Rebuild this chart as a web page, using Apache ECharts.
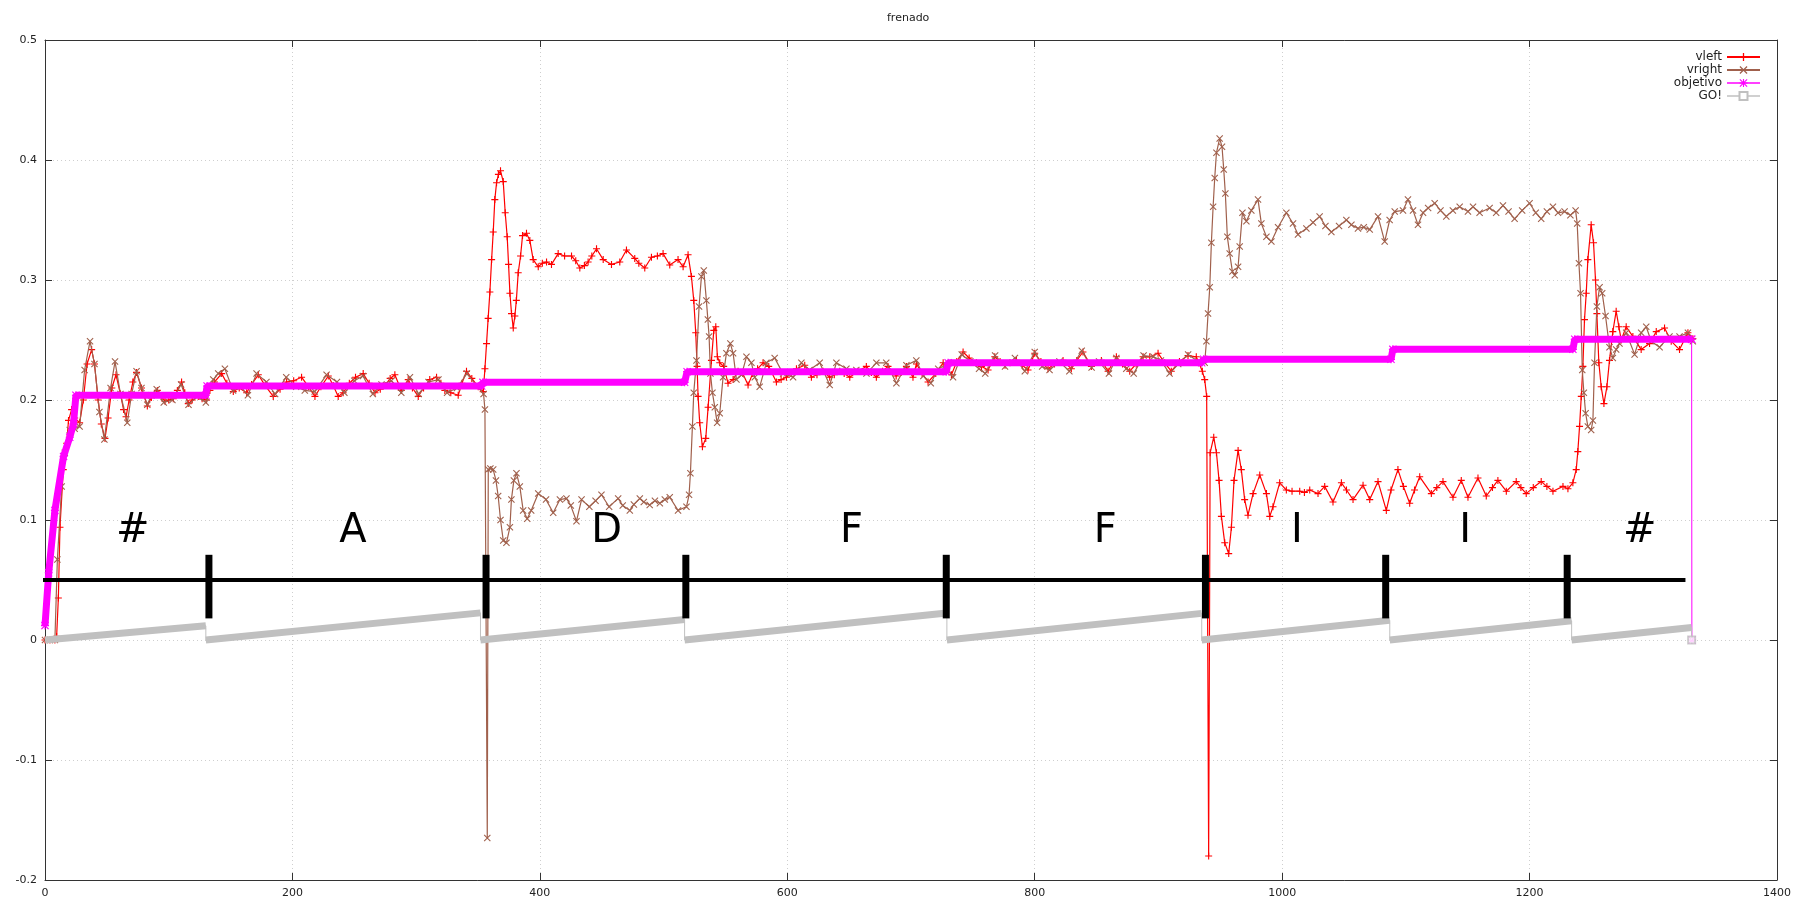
<!DOCTYPE html>
<html>
<head>
<meta charset="utf-8">
<title>frenado</title>
<script src="https://cdn.jsdelivr.net/npm/echarts@6/dist/echarts.min.js"></script>
<style>
html, body { margin: 0; padding: 0; background: #fff; }
#chart { width: 1798px; height: 907px; }
</style>
</head>
<body>
<div id="chart"></div>
<script>
// velocidad rueda izquierda [muestra, valor]
var vleft = [
  [0,0],[4,0],[8,0],[9.4,0.003],[10.8,0.035],[12.1,0.094],[14.8,0.142],[17.5,0.164],[19,0.183],[21.5,0.192],[24,0.185],[28,0.181],
  [31,0.2],[34,0.23],[37.7,0.242],[40,0.23],[43,0.2],[45.5,0.18],[48.5,0.168],[51,0.185],[54,0.21],[57.4,0.221],[61,0.205],
  [63.5,0.192],[65.5,0.186],[68,0.2],[71,0.215],[74,0.223],[78,0.21],[82.7,0.195],[86,0.202],[90.8,0.208],[94,0.203],[97,0.199],
  [100,0.2],[103.7,0.201],[107,0.208],[110.4,0.215],[113,0.206],[115.8,0.197],[119,0.2],[123.9,0.203],[127,0.201],[130.6,0.2],
  [133.3,0.208],[137,0.215],[142.8,0.222],[147,0.214],[152.2,0.207],[157,0.21],[163,0.206],[167,0.213],[172.4,0.221],[178,0.212],
  [184.5,0.203],[190,0.209],[195.3,0.215],[201,0.216],[207.4,0.219],[213,0.211],[218.2,0.203],[223,0.211],[229,0.22],[233,0.212],
  [237,0.203],[241,0.206],[246,0.214],[251,0.219],[257.2,0.222],[262,0.214],[266.7,0.206],[271,0.209],[275,0.212],[279,0.218],
  [282.8,0.221],[288,0.208],[293.6,0.217],[297,0.21],[301.7,0.203],[306,0.21],[311,0.217],[316.5,0.219],[320,0.214],[323.2,0.208],
  [328,0.206],[334,0.204],[337,0.214],[340.7,0.224],[345,0.218],[350.2,0.211],[354.2,0.207],[355.6,0.226],[356.9,0.247],
  [358.2,0.268],[359.6,0.29],[361,0.317],[362.3,0.34],[363.6,0.367],[365,0.381],[366.5,0.388],[368.2,0.391],[370.4,0.382],
  [372,0.356],[373.6,0.336],[374.7,0.313],[375.8,0.289],[377.1,0.272],[378.5,0.26],[379.8,0.27],[381,0.283],[382.5,0.306],
  [384.4,0.32],[386,0.337],[389.2,0.339],[391.9,0.333],[394.6,0.317],[398.7,0.311],[402,0.314],[405.4,0.315],[409.4,0.313],
  [414.8,0.322],[420,0.32],[425.6,0.32],[429,0.316],[432.3,0.31],[436,0.312],[439,0.315],[442,0.32],[445.8,0.326],[451.2,0.317],
  [457.9,0.313],[464.6,0.315],[470,0.325],[476.7,0.318],[480,0.314],[484.8,0.31],[490.2,0.319],[495,0.32],[499.6,0.322],
  [505,0.3125],[511.7,0.317],[515.8,0.311],[519.8,0.321],[522.5,0.303],[524.4,0.283],[526,0.256],[527.1,0.228],[527.9,0.203],
  [529.2,0.181],[531.4,0.161],[534.1,0.168],[536,0.194],[538.7,0.233],[540.6,0.258],[542.2,0.261],[543.5,0.236],[545.4,0.231],
  [548.6,0.228],[552.1,0.214],[556.2,0.217],[560.2,0.224],[564,0.222],[568.3,0.2125],[572,0.222],[576,0.226],[580.4,0.231],
  [585,0.228],[591.2,0.215],[595,0.217],[599.3,0.219],[603,0.222],[607.4,0.226],[614.1,0.229],[619.5,0.219],[624,0.221],
  [628.9,0.224],[634.3,0.219],[638,0.221],[642.4,0.224],[646,0.222],[650.5,0.219],[657,0.224],[663.9,0.228],[668,0.223],
  [672,0.219],[677,0.224],[681.4,0.228],[688,0.22],[692,0.223],[696.3,0.228],[701.6,0.219],[704.4,0.23],[709,0.222],
  [713.8,0.215],[720,0.222],[726,0.231],[732.7,0.221],[737,0.232],[742.1,0.24],[747,0.235],[752.9,0.231],[757,0.228],
  [762.3,0.225],[767.7,0.236],[772,0.232],[776,0.229],[780,0.231],[785.2,0.233],[790,0.229],[794.6,0.225],[800,0.239],
  [805,0.232],[810.8,0.226],[816,0.23],[822.9,0.233],[829.6,0.226],[834,0.233],[839,0.24],[845.8,0.228],[853.9,0.233],
  [859.3,0.224],[866,0.236],[871,0.23],[876.8,0.224],[882,0.23],[887.6,0.236],[893,0.236],[899.7,0.239],[905,0.231],
  [910.4,0.224],[917,0.232],[923.9,0.237],[930.6,0.236],[935.5,0.224],[937.4,0.217],[939,0.203],[940.6,-0.18],[941.8,0.156],
  [944.7,0.169],[946.9,0.156],[949,0.133],[950.9,0.103],[953.6,0.081],[956.8,0.072],[959,0.094],[961.1,0.133],[964.4,0.158],
  [967,0.142],[969.7,0.117],[972.4,0.104],[976.5,0.122],[981.9,0.1375],[987.3,0.122],[990,0.103],[992.6,0.111],[998,0.131],
  [1003.4,0.125],[1008,0.124],[1014.2,0.124],[1018,0.123],[1022.3,0.125],[1029,0.122],[1034.4,0.128],[1041.1,0.115],
  [1047.9,0.131],[1052,0.125],[1057.3,0.117],[1065.4,0.129],[1070.8,0.117],[1077.5,0.132],[1084.2,0.108],[1088,0.125],
  [1093.6,0.142],[1098,0.128],[1103.1,0.114],[1107,0.125],[1111.2,0.136],[1120.6,0.122],[1125,0.127],[1130,0.132],
  [1138.1,0.119],[1144.8,0.133],[1150.2,0.119],[1158.3,0.135],[1165,0.12],[1170,0.127],[1174.4,0.133],[1181.2,0.124],
  [1189.2,0.132],[1193,0.127],[1197.3,0.122],[1203,0.127],[1209.4,0.132],[1214,0.128],[1218.9,0.124],[1227,0.128],
  [1231,0.126],[1235,0.131],[1237.7,0.142],[1239,0.157],[1240.4,0.178],[1241.8,0.203],[1243.1,0.228],[1244.4,0.267],
  [1245.8,0.289],[1247.1,0.317],[1249.8,0.346],[1251.7,0.331],[1253.3,0.3],[1254.4,0.272],[1256,0.231],[1257.9,0.211],
  [1260.1,0.197],[1262.5,0.211],[1264.6,0.233],[1267.3,0.257],[1270,0.274],[1272.2,0.261],[1274.1,0.25],[1278.1,0.261],
  [1283.5,0.253],[1290.2,0.242],[1297,0.247],[1302.4,0.257],[1309.1,0.26],[1314.5,0.249],[1321.2,0.242],[1328,0.256],[1332,0.251]
];

// velocidad rueda derecha [muestra, valor]
var vright = [
  [0,0],[4,0],[8,0],[10,0.067],[13.5,0.128],[16,0.156],[20,0.175],[24,0.176],[28,0.178],[32,0.225],[36.4,0.249],[40,0.23],
  [44,0.19],[48,0.167],[53,0.21],[56.6,0.232],[61,0.205],[66.5,0.181],[70,0.205],[74,0.224],[78,0.21],[82.7,0.196],[86,0.204],
  [90.3,0.209],[96,0.198],[103,0.2],[110,0.213],[116,0.196],[123,0.203],[130,0.198],[136,0.217],[140,0.222],[145.4,0.226],
  [152,0.208],[158,0.211],[164,0.204],[171,0.222],[179,0.215],[186,0.205],[195,0.219],[203,0.211],[210,0.208],[218,0.207],
  [227.6,0.221],[236,0.215],[242,0.206],[250,0.216],[257,0.22],[265,0.205],[272,0.213],[280,0.216],[288,0.206],[295,0.219],
  [302,0.205],[310,0.215],[318,0.217],[325,0.206],[333,0.21],[341,0.222],[349,0.212],[354.5,0.205],[355.6,0.192],
  [357.5,-0.165],[358.3,0.142],[360,0.143],[362.3,0.142],[364.5,0.133],[366.3,0.12],[368.2,0.1],[370.4,0.083],[373,0.081],
  [375.8,0.094],[377,0.117],[379,0.133],[381.1,0.139],[383.8,0.128],[386.5,0.108],[389.8,0.101],[393,0.108],[398.7,0.122],
  [405,0.117],[410.8,0.106],[416.2,0.117],[421.5,0.118],[425,0.112],[429.6,0.099],[433.7,0.117],[440,0.111],[445,0.116],
  [449.8,0.121],[456,0.111],[463.3,0.118],[467,0.112],[472.7,0.108],[476,0.113],[480.8,0.118],[484,0.115],[488.8,0.1125],
  [493,0.116],[497,0.114],[501,0.117],[505,0.119],[511.7,0.108],[518.5,0.111],[520.6,0.121],[521.7,0.139],[523.3,0.178],
  [524.4,0.206],[526.6,0.233],[528.7,0.278],[530.6,0.303],[532.5,0.308],[534.6,0.283],[535.8,0.267],[536.8,0.253],
  [537.9,0.222],[539.5,0.206],[541.4,0.194],[543.3,0.181],[545.4,0.189],[548.1,0.219],[550.8,0.239],[554,0.247],
  [556.2,0.239],[558.9,0.217],[563,0.221],[567,0.236],[571,0.231],[573.7,0.219],[577.7,0.211],[583.1,0.231],[589.8,0.235],
  [596.6,0.222],[604.7,0.219],[611.4,0.231],[618,0.225],[626.2,0.231],[634.3,0.2125],[639.7,0.231],[647.8,0.226],
  [655.8,0.225],[664,0.222],[672,0.231],[680,0.231],[688.2,0.214],[696.3,0.229],[704.3,0.233],[710,0.22],[716,0.214],
  [722,0.226],[728,0.229],[734,0.219],[741,0.238],[748,0.232],[755,0.226],[760,0.222],[768,0.237],[776,0.228],[784,0.235],
  [792,0.224],[800,0.24],[806,0.228],[812,0.225],[820,0.232],[828,0.224],[838,0.241],[846,0.227],[852,0.232],[860,0.222],
  [866,0.235],[874,0.226],[880,0.222],[888,0.237],[896,0.236],[902,0.233],[909,0.222],[916,0.23],[924,0.238],[932,0.232],
  [936,0.233],[937.4,0.231],[938.8,0.249],[940.1,0.272],[941.5,0.294],[942.8,0.331],[944.2,0.361],[945.5,0.385],
  [946.9,0.406],[949.5,0.418],[951.4,0.411],[952.8,0.392],[954.1,0.372],[955.7,0.336],[957.6,0.322],[959.8,0.307],
  [961.7,0.304],[964.4,0.311],[965.7,0.328],[967.9,0.356],[971.1,0.349],[975.1,0.358],[980.5,0.367],[983.2,0.347],
  [987.3,0.336],[991.3,0.332],[996.7,0.344],[1003.4,0.356],[1008.8,0.347],[1012.8,0.338],[1019.6,0.343],[1025,0.348],
  [1030.3,0.353],[1035,0.345],[1039.8,0.34],[1046,0.345],[1051.9,0.35],[1056,0.346],[1061.3,0.343],[1066,0.344],
  [1070.8,0.342],[1077.5,0.353],[1082.9,0.332],[1086.9,0.35],[1091,0.357],[1097.7,0.358],[1101.7,0.367],[1105.8,0.358],
  [1109.8,0.346],[1113.9,0.356],[1118,0.36],[1123.3,0.364],[1128,0.358],[1132.7,0.353],[1138,0.358],[1143.5,0.361],
  [1150.2,0.357],[1154.3,0.361],[1159.6,0.356],[1167.7,0.36],[1173,0.356],[1178.5,0.362],[1183,0.357],[1187.9,0.351],
  [1194,0.358],[1200,0.364],[1205,0.356],[1209.4,0.351],[1214,0.357],[1218.9,0.361],[1223,0.356],[1228.3,0.357],
  [1233,0.354],[1237.2,0.358],[1238.5,0.347],[1239.9,0.314],[1241.2,0.289],[1242.6,0.225],[1243.9,0.206],[1245.3,0.189],
  [1247.1,0.178],[1249.8,0.175],[1251.2,0.183],[1252.5,0.231],[1254.4,0.278],[1256.6,0.294],[1258.7,0.289],[1261.4,0.27],
  [1264.6,0.244],[1267.3,0.235],[1270,0.242],[1272.7,0.247],[1278.1,0.256],[1284.9,0.238],[1290.2,0.256],[1294.3,0.261],
  [1298.3,0.249],[1305.1,0.244],[1313.1,0.253],[1321.2,0.253],[1328,0.256],[1332,0.249]
];

// velocidad objetivo
var objetivo = [
  [0,0.012],[3,0.056],[8,0.108],[15,0.153],[20,0.169],[23,0.18],[25,0.204],[130,0.204],[131,0.2117],[353,0.2117],
  [354,0.2147],[517,0.2147],[519,0.2236],[728.5,0.2236],[730,0.2311],[935,0.2311],[936.5,0.2339],[1088,0.2339],
  [1089.5,0.2422],[1235,0.2422],[1236.5,0.2506],[1331,0.2506]
];
var objetivoCaida = [[1331, 0.2506], [1331.2, 0]];

// rampas de la señal GO!
var goInicio = [0, 130, 352, 517, 729, 935, 1087, 1234];
var goFin = [130, 352, 517, 729, 935, 1087, 1234, 1331];
var goPico = [0.0118, 0.0226, 0.017, 0.0225, 0.0222, 0.0165, 0.016, 0.0105];

// anotaciones del recorrido
var letras = ['#', 'A', 'D', 'F', 'F', 'I', 'I', '#'];
var letrasX = [71, 249, 454, 652, 857, 1012, 1148, 1289];
var letrasY = 0.09;
var marcasX = [132.5, 356.5, 518, 728.5, 938, 1083.7, 1230.4];
var marcaBase = 0.018, marcaTope = 0.071;
var lineaY = 0.05, lineaDesde = -3, lineaHasta = 1326;

var FONT = 'DejaVu Sans';
var plusSym = 'path://M4.2,0H5.8V10H4.2Z M0,4.2H10V5.8H0Z';
var crossSym = 'path://M0,1.1L1.1,0L10,8.9L8.9,10Z M8.9,0L10,1.1L1.1,10L0,8.9Z';
var starSym = 'path://M4.3,0H5.7V10H4.3Z M0,4.3H10V5.7H0Z M0,1L1,0L10,9L9,10Z M9,0L10,1L1,10L0,9Z';

// GO!: polilinea fina con los reinicios y tramos gruesos
var goFino = [];
for (var i = 0; i < goInicio.length; i++) {
  goFino.push([goInicio[i], 0]);
  goFino.push([goFin[i], goPico[i]]);
}
goFino.push([goFin[goFin.length - 1], 0]);

var series = [
  {
    name: 'vleft', type: 'line', data: vleft,
    symbol: plusSym, symbolSize: 7, showSymbol: true,
    itemStyle: { color: '#ff0000' },
    lineStyle: { color: '#ff0000', width: 1.2 },
    z: 2, animation: false
  },
  {
    name: 'vright', type: 'line', data: vright,
    symbol: crossSym, symbolSize: 7, showSymbol: true,
    itemStyle: { color: '#a0604c' },
    lineStyle: { color: '#a0604c', width: 1.2 },
    z: 3, animation: false
  },
  {
    name: 'objetivo', type: 'line', data: objetivo,
    symbol: starSym, symbolSize: 8, showSymbol: true,
    itemStyle: { color: '#ff00ff' },
    lineStyle: { color: '#ff00ff', width: 7 },
    z: 4, animation: false
  },
  {
    name: 'objetivo', type: 'line', data: objetivoCaida,
    symbol: starSym, symbolSize: 8, showSymbol: true,
    itemStyle: { color: '#ff00ff' },
    lineStyle: { color: '#ff00ff', width: 1 },
    z: 4, animation: false
  },
  {
    name: 'GO!', type: 'line', data: goFino,
    symbol: 'emptyRect', symbolSize: 6, showSymbol: false,
    itemStyle: { color: '#c0c0c0' },
    lineStyle: { color: '#c0c0c0', width: 1 },
    z: 5, animation: false
  }
];

for (var j = 0; j < goInicio.length; j++) {
  series.push({
    name: 'GO!', type: 'line',
    data: [[goInicio[j], 0], [goFin[j], goPico[j]]],
    symbol: 'none', lineStyle: { color: '#c0c0c0', width: 7 },
    z: 5, animation: false
  });
}
series.push({
  name: 'GO!', type: 'scatter', data: [[goFin[goFin.length - 1], 0]],
  symbol: 'emptyRect', symbolSize: 7,
  itemStyle: { color: '#c0c0c0', borderColor: '#c0c0c0' },
  z: 5, animation: false
});

// linea del recorrido y separadores
series.push({
  type: 'line', data: [[lineaDesde, lineaY], [lineaHasta, lineaY]],
  symbol: 'none', clip: false, silent: true,
  lineStyle: { color: '#000', width: 4 },
  z: 6, animation: false
});
series.push({
  type: 'custom', silent: true, z: 7, animation: false,
  data: marcasX.map(function (x) { return [x, marcaBase, marcaTope]; }),
  renderItem: function (params, api) {
    var top = api.coord([api.value(0), api.value(2)]);
    var bot = api.coord([api.value(0), api.value(1)]);
    return {
      type: 'rect',
      shape: { x: top[0] - 3.5, y: top[1], width: 7, height: bot[1] - top[1] },
      style: { fill: '#000' }
    };
  }
});
// letras del recorrido
series.push({
  type: 'custom', silent: true, z: 8, animation: false,
  data: letrasX.map(function (x) { return [x, letrasY]; }),
  renderItem: function (params, api) {
    var p = api.coord([api.value(0), api.value(1)]);
    return {
      type: 'text',
      x: p[0], y: p[1],
      style: {
        text: letras[params.dataIndex],
        fill: '#000',
        font: '40px "DejaVu Sans"',
        align: 'center',
        verticalAlign: 'middle'
      }
    };
  }
});

var axisLine = { show: true, onZero: false, lineStyle: { color: '#333', width: 1 } };
var axisTick = { show: true, inside: true, length: 7, lineStyle: { color: '#333' } };

var chart = echarts.init(document.getElementById('chart'));
chart.setOption({
  backgroundColor: '#fff',
  animation: false,
  textStyle: { fontFamily: FONT },
  title: {
    text: 'frenado', left: 887, top: 13, padding: 0,
    textStyle: { fontFamily: FONT, fontSize: 11, fontWeight: 'normal', color: '#222' }
  },
  legend: {
    data: [
      { name: 'vleft' },
      { name: 'vright' },
      { name: 'objetivo', lineStyle: { width: 1.5 } },
      { name: 'GO!', lineStyle: { width: 1.5 } }
    ],
    orient: 'vertical', right: 32, top: 46, align: 'right',
    itemWidth: 33, itemHeight: 10, itemGap: 1,
    textStyle: { fontFamily: FONT, fontSize: 12, lineHeight: 12, color: '#222' },
    selectedMode: false
  },
  grid: { left: 45, right: 21, top: 40, bottom: 27, containLabel: false, outerBoundsMode: 'none' },
  xAxis: [
    {
      type: 'value', min: 0, max: 1400, interval: 200, position: 'bottom',
      axisLine: axisLine, axisTick: axisTick,
      axisLabel: {
        fontFamily: FONT, fontSize: 11, color: '#222', margin: 8,
        formatter: function (v) { return String(v); }
      },
      splitLine: { show: true, lineStyle: { color: '#cfcfcf', type: [1, 3] } }
    },
    {
      type: 'value', min: 0, max: 1400, interval: 200, position: 'top',
      axisLine: axisLine, axisTick: axisTick,
      axisLabel: { show: false }, splitLine: { show: false }
    }
  ],
  yAxis: [
    {
      type: 'value', min: -0.2, max: 0.5, interval: 0.1, position: 'left',
      axisLine: axisLine, axisTick: axisTick,
      axisLabel: {
        fontFamily: FONT, fontSize: 11, color: '#222', margin: 8,
        formatter: function (v) { return String(Math.round(v * 10) / 10); }
      },
      splitLine: { show: true, lineStyle: { color: '#cfcfcf', type: [1, 3] } }
    },
    {
      type: 'value', min: -0.2, max: 0.5, interval: 0.1, position: 'right',
      axisLine: axisLine, axisTick: axisTick,
      axisLabel: { show: false }, splitLine: { show: false }
    }
  ],
  series: series
});
</script>
</body>
</html>
